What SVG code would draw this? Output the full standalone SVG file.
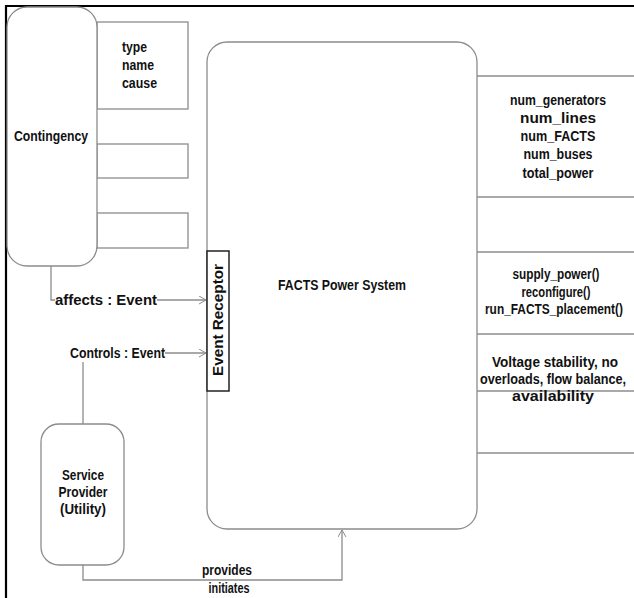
<svg xmlns="http://www.w3.org/2000/svg" width="634" height="598" viewBox="0 0 634 598">
<defs>
<marker id="arr" markerWidth="10" markerHeight="10" refX="8" refY="4" orient="auto" markerUnits="userSpaceOnUse">
<path d="M1,0 L8,4 L1,8" fill="none" stroke="#8c8c8c" stroke-width="1"/>
</marker>
</defs>
<style>
.box{fill:#fff;stroke:#8c8c8c;stroke-width:1.3}
.line{fill:none;stroke:#8c8c8c;stroke-width:1.3}
.t{font-family:"Liberation Sans",Arial,sans-serif;font-weight:bold;font-size:14px;fill:#111}
.c{text-anchor:middle}
</style>
<rect width="634" height="598" fill="#fff"/>
<g id="frame">
<line x1="5" y1="6" x2="634" y2="6" stroke="#000" stroke-width="2.2"/>
<line x1="6" y1="5" x2="6" y2="598" stroke="#000" stroke-width="2.2"/>
</g>
<g id="connectors">
<polyline class="line" points="51,266 51,300 55,300"/>
<line class="line" x1="157" y1="300" x2="206" y2="300" marker-end="url(#arr)"/>
<line class="line" x1="165" y1="353" x2="206" y2="353" marker-end="url(#arr)"/>
<line class="line" x1="83" y1="362" x2="83" y2="424"/>
<polyline class="line" points="83,565 83,580 342,580 342,530" marker-end="url(#arr)"/>
</g>
<g id="contingency-attrs">
<rect class="box" x="97" y="22" width="91" height="87"/>
<rect class="box" x="97" y="144" width="91" height="34"/>
<rect class="box" x="97" y="213" width="91" height="35"/>
<text class="t" x="122" y="52" textLength="25" lengthAdjust="spacingAndGlyphs">type</text>
<text class="t" x="122" y="70" textLength="32" lengthAdjust="spacingAndGlyphs">name</text>
<text class="t" x="122" y="88" textLength="35" lengthAdjust="spacingAndGlyphs">cause</text>
</g>
<g id="contingency">
<rect class="box" x="7" y="7" width="90" height="259" rx="20"/>
<text class="t c" x="51" y="141" textLength="74" lengthAdjust="spacingAndGlyphs">Contingency</text>
</g>
<g id="facts-compartments">
<line class="line" x1="477" y1="76" x2="634" y2="76"/>
<line class="line" x1="477" y1="197" x2="634" y2="197"/>
<line class="line" x1="477" y1="252" x2="634" y2="252"/>
<line class="line" x1="477" y1="334" x2="634" y2="334"/>
<line class="line" x1="477" y1="391" x2="634" y2="391"/>
<line class="line" x1="477" y1="453" x2="634" y2="453"/>
<text class="t c" x="558" y="105" textLength="96" lengthAdjust="spacingAndGlyphs">num_generators</text>
<text class="t c" x="558" y="123" textLength="76" lengthAdjust="spacingAndGlyphs">num_lines</text>
<text class="t c" x="558" y="141" textLength="75" lengthAdjust="spacingAndGlyphs">num_FACTS</text>
<text class="t c" x="558" y="159" textLength="69" lengthAdjust="spacingAndGlyphs">num_buses</text>
<text class="t c" x="558" y="178" textLength="71" lengthAdjust="spacingAndGlyphs">total_power</text>
<text class="t c" x="556" y="279" textLength="87" lengthAdjust="spacingAndGlyphs">supply_power()</text>
<text class="t c" x="556" y="297" textLength="69" lengthAdjust="spacingAndGlyphs">reconfigure()</text>
<text class="t c" x="554" y="314" font-size="11" textLength="138" lengthAdjust="spacingAndGlyphs">run_FACTS_placement()</text>
<text class="t c" x="555" y="367" textLength="126" lengthAdjust="spacingAndGlyphs">Voltage stability, no</text>
<text class="t c" x="553" y="384" font-size="12" textLength="146" lengthAdjust="spacingAndGlyphs">overloads, flow balance,</text>
<text class="t c" x="553" y="401" textLength="82" lengthAdjust="spacingAndGlyphs">availability</text>
</g>
<g id="facts">
<rect class="box" x="207" y="42" width="270" height="487" rx="20"/>
<text class="t c" x="342" y="290" font-size="15" textLength="128" lengthAdjust="spacingAndGlyphs">FACTS Power System</text>
</g>
<g id="event-receptor">
<rect x="207" y="251" width="22" height="140" fill="#fff" stroke="#222" stroke-width="1.5"/>
<text class="t c" transform="translate(223,320) rotate(-90)" x="0" y="0" textLength="112" lengthAdjust="spacingAndGlyphs">Event Receptor</text>
</g>
<g id="service-provider">
<rect class="box" x="41" y="424" width="83" height="141" rx="18"/>
<text class="t c" x="83" y="480" textLength="42" lengthAdjust="spacingAndGlyphs">Service</text>
<text class="t c" x="83" y="497" textLength="49" lengthAdjust="spacingAndGlyphs">Provider</text>
<text class="t c" x="83" y="514" textLength="46" lengthAdjust="spacingAndGlyphs">(Utility)</text>
</g>
<g id="labels">
<text class="t" x="55" y="305" textLength="102" lengthAdjust="spacingAndGlyphs">affects : Event</text>
<text class="t" x="70" y="358" textLength="95" lengthAdjust="spacingAndGlyphs">Controls : Event</text>
<text class="t c" x="227" y="575" textLength="50" lengthAdjust="spacingAndGlyphs">provides</text>
<text class="t c" x="229" y="593" textLength="41" lengthAdjust="spacingAndGlyphs">initiates</text>
</g>
</svg>
